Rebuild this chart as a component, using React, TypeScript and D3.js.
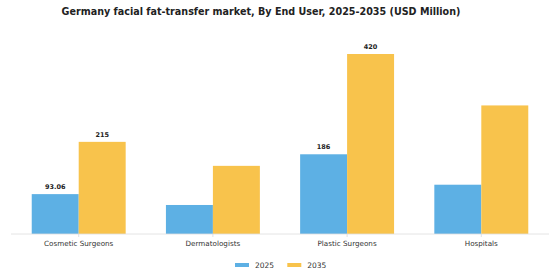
import React from "react";
import * as d3 from "d3";

const categories = ["Cosmetic Surgeons", "Dermatologists", "Plastic Surgeons", "Hospitals"];
const seriesNames = ["2025", "2035"];
const values2025 = [93.06, 67.7, 186, 115];
const values2035 = [215, 159, 420, 300];
const labels2025 = ["93.06", "", "186", ""];
const labels2035 = ["215", "", "420", ""];
const colors = ["#5DB0E4", "#F8C34C"];

const W = 560;
const H = 280;
const baseY = 234;
const topY = 36;

export default function App() {
  const x = d3.scaleBand<string>().domain(categories).range([11.6, 548.4]).paddingInner(0.3).paddingOuter(0.15);
  const x1 = d3.scaleBand<string>().domain(seriesNames).range([0, x.bandwidth()]);
  const y = d3.scaleLinear().domain([0, 462]).range([baseY, topY]);
  const series = [values2025, values2035];
  const labels = [labels2025, labels2035];
  const font = "DejaVu Sans, sans-serif";
  return (
    <svg width={W} height={H} style={{ position: "absolute", left: 0, top: 0 }}>
      <rect width={W} height={H} fill="#fff" />
      <text x={261} y={14.5} textAnchor="middle" fontFamily={font} fontWeight="bold" fontSize={9.6} fill="#222">
        Germany facial fat-transfer market, By End User, 2025-2035 (USD Million)
      </text>
      {categories.map((c, i) => (
        <g key={c}>
          {series.map((vals, s) => {
            const bx = (x(c) as number) + (x1(seriesNames[s]) as number);
            return (
              <g key={s}>
                <rect x={bx} y={y(vals[i])} width={x1.bandwidth()} height={baseY - y(vals[i])} fill={colors[s]} />
                {labels[s][i] && (
                  <text x={bx + x1.bandwidth() / 2} y={y(vals[i]) - 5} textAnchor="middle" fontFamily={font} fontWeight="bold" fontSize={6.5} fill="#222">
                    {labels[s][i]}
                  </text>
                )}
              </g>
            );
          })}
          <line x1={(x(c) as number) + x.bandwidth() / 2} x2={(x(c) as number) + x.bandwidth() / 2} y1={baseY} y2={baseY + 3} stroke="#ccc" strokeWidth={0.6} />
          <text x={(x(c) as number) + x.bandwidth() / 2} y={245.5} textAnchor="middle" fontFamily={font} fontSize={7.2} fill="#333">
            {c}
          </text>
        </g>
      ))}
      <line x1={11} x2={549} y1={baseY} y2={baseY} stroke="#ddd" strokeWidth={0.8} />
      {seriesNames.map((s, i) => (
        <g key={s}>
          <rect x={235 + i * 52.3} y={263} width={14} height={4} fill={colors[i]} />
          <text x={255 + i * 52.3} y={268} fontFamily={font} fontSize={7.5} fill="#333">
            {s}
          </text>
        </g>
      ))}
    </svg>
  );
}
